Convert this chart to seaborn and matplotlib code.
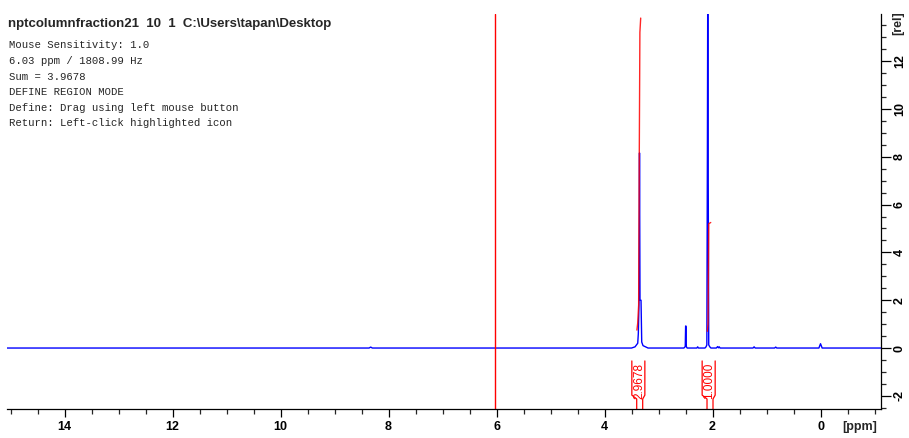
import matplotlib
matplotlib.use("Agg")
import matplotlib.pyplot as plt
import seaborn as sns
import pandas as pd
from matplotlib.ticker import FixedLocator, MultipleLocator

# 1H trace: chemical shift (ppm) and relative intensity
spec_ppm = [15.10, 8.36, 8.33, 8.30, 3.50, 3.435, 3.385, 3.374, 3.361, 3.352,
            3.343, 3.324, 3.311, 3.287, 3.194, 2.53, 2.505, 2.498, 2.492, 2.485,
            2.47, 2.29, 2.275, 2.26, 2.14, 2.12, 2.105, 2.095, 2.088, 2.081,
            2.07, 2.05, 2.03, 1.93, 1.905, 1.89, 1.875, 1.86, 1.84, 1.25,
            1.23, 1.21, 0.85, 0.83, 0.81, 0.03, 0.0, -0.03, -1.20]
spec_int = [0.0, 0.0, 0.04, 0.0, 0.0, 0.05, 0.2, 0.6, 1.9, 8.16,
            2.0, 2.0, 0.25, 0.1, 0.0, 0.0, 0.06, 0.92, 0.92, 0.06,
            0.0, 0.0, 0.05, 0.0, 0.0, 0.05, 0.13, 8.1, 15.5, 8.1,
            0.13, 0.05, 0.0, 0.0, 0.06, 0.01, 0.05, 0.0, 0.0, 0.0,
            0.05, 0.0, 0.0, 0.04, 0.0, 0.0, 0.18, 0.0, 0.0]

# integral traces
int1_ppm = [3.400, 3.385, 3.368, 3.356, 3.345, 3.330]
int1_val = [0.75, 1.05, 1.8, 8.2, 13.2, 13.8]
int2_ppm = [2.096, 2.083, 2.070, 2.033]
int2_val = [0.7, 1.0, 5.2, 5.25]

# integral regions (limits in ppm) and their values
region_left = [3.404, 2.102]
region_right = [3.293, 1.991]
region_values = ["2.9678", "1.0000"]

cursor_ppm = 6.03

x_ticks = [14, 12, 10, 8, 6, 4, 2, 0]
x_labels = ["14", "12", "10", "8", "6", "4", "2", "0"]
y_ticks = [-2, 0, 2, 4, 6, 8, 10, 12]
y_labels = ["-2", "0", "2", "4", "6", "8", "10", "12"]

title = "nptcolumnfraction21  10  1  C:\\Users\\tapan\\Desktop"
info_lines = [
    "Mouse Sensitivity: 1.0",
    "6.03 ppm / 1808.99 Hz",
    "Sum = 3.9678",
    "DEFINE REGION MODE",
    "Define: Drag using left mouse button",
    "Return: Left-click highlighted icon",
]

sns.set_style("white")
plt.rcParams["font.family"] = ["Liberation Sans", "DejaVu Sans"]
plt.rcParams["axes.unicode_minus"] = False

W, H = 909, 438
fig = plt.figure(figsize=(W / 100, H / 100), dpi=100)
ax = fig.add_axes([7 / W, 1 - 409 / H, 874 / W, 395 / H])

BLUE = "#0000ff"
RED = "#ff0000"

spec = pd.DataFrame({"ppm": spec_ppm, "rel": spec_int})
sns.lineplot(data=spec, x="ppm", y="rel", ax=ax, color=BLUE, lw=1.0,
             estimator=None, sort=False)

for xs, ys in [(int1_ppm, int1_val), (int2_ppm, int2_val)]:
    sns.lineplot(x=xs, y=ys, ax=ax, color=RED, lw=1.0, alpha=0.85,
                 estimator=None, sort=False)

ax.axvline(cursor_ppm, color=RED, lw=1.0)

ax.set_xlim(15.065, -1.12)
ax.set_ylim(-2.55, 13.97)
ax.set_xlabel("")
ax.set_ylabel("")

# integral region brackets below the baseline
top_y, bend_y, foot_y, axis_y = -0.54, -1.97, -2.13, -2.55
for lo, hi, val in zip(region_left, region_right, region_values):
    wide_lo, wide_hi = lo + 0.09, hi - 0.04
    ax.plot([wide_lo, wide_lo, lo, lo], [top_y, bend_y, foot_y, axis_y],
            color=RED, lw=0.9, clip_on=False)
    ax.plot([wide_hi, wide_hi, hi, hi], [top_y, bend_y, foot_y, axis_y],
            color=RED, lw=0.9, clip_on=False)
    ax.text((lo + hi) / 2 + 0.01, (top_y + foot_y) / 2 - 0.05, val, color=RED,
            rotation=90, ha="center", va="center", fontsize=8.5)

for side in ["top", "left"]:
    ax.spines[side].set_visible(False)
for side in ["bottom", "right"]:
    ax.spines[side].set_color("black")
    ax.spines[side].set_linewidth(0.9)

ax.yaxis.tick_right()
ax.xaxis.set_major_locator(FixedLocator(x_ticks))
ax.set_xticklabels(x_labels)
ax.xaxis.set_minor_locator(MultipleLocator(0.5))
ax.yaxis.set_major_locator(FixedLocator(y_ticks))
ax.set_yticklabels(y_labels)
ax.yaxis.set_minor_locator(MultipleLocator(0.5))

ax.tick_params(axis="x", which="major", direction="out", length=5.8, width=0.9,
               pad=3, labelsize=9, colors="black", bottom=True)
ax.tick_params(axis="x", which="minor", direction="out", length=3.6, width=0.9,
               bottom=True)
ax.tick_params(axis="y", which="major", direction="out", length=7, width=0.9,
               pad=2.2, labelsize=9, colors="black", right=True, left=False)
ax.tick_params(axis="y", which="minor", direction="out", length=3.6, width=0.9,
               right=True, left=False)
for lab in ax.get_xticklabels() + ax.get_yticklabels():
    lab.set_fontweight("bold")
for lab in ax.get_yticklabels():
    lab.set_rotation(90)
    lab.set_va("center")

fig.text(860 / W, 1 - 427 / H, "[ppm]", ha="center", va="center",
         fontsize=9, fontweight="bold")
fig.text(898.5 / W, 1 - 23 / H, "[rel]", ha="center", va="center",
         fontsize=9, fontweight="bold", rotation=90)

fig.text(8 / W, 1 - 24 / H, title, ha="left", va="center", fontsize=9.5,
         fontweight="bold")
for i, line in enumerate(info_lines):
    fig.text(9 / W, 1 - (45.5 + i * 15.6) / H, line, ha="left", va="center",
             fontsize=7.7, family=["Liberation Mono", "DejaVu Sans Mono"])

fig.savefig("out.png", dpi=100, facecolor="white")
